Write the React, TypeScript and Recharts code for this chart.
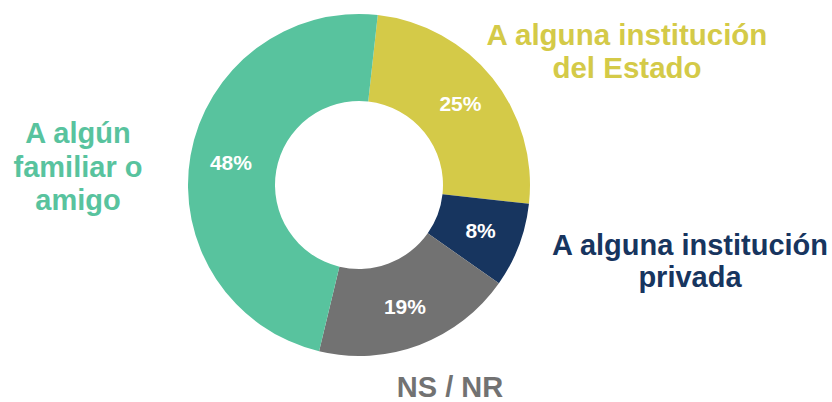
import React from "react";
import { PieChart, Pie, Cell } from "recharts";

const categories = [
  "A alguna institución del Estado",
  "A alguna institución privada",
  "NS / NR",
  "A algún familiar o amigo",
];
const values = [25, 8, 19, 48];
const categoryLines = [
  ["A alguna institución", "del Estado"],
  ["A alguna institución", "privada"],
  ["NS / NR"],
  ["A algún", "familiar o", "amigo"],
];

const colors = ["#D4CA48", "#17355F", "#727272", "#58C39E"];

// label layout (position of the category text blocks)
const nameLayout = [
  { x: 627, y: 45, size: 29.5, lh: 33 },
  { x: 690, y: 255, size: 29, lh: 32 },
  { x: 450, y: 397, size: 29, lh: 32 },
  { x: 78, y: 143, size: 29, lh: 33.5 },
];

const data = categories.map((c, i) => ({ name: c, value: values[i] }));

const RADIAN = Math.PI / 180;
const FONT = "'Liberation Sans', Arial, sans-serif";

const renderLabel = (props: any) => {
  const { cx, cy, midAngle, value, index } = props;
  const r = 130;
  const x = cx + r * Math.cos(-midAngle * RADIAN);
  const y = cy + r * Math.sin(-midAngle * RADIAN);
  const lay = nameLayout[index];
  return (
    <g>
      <text
        x={x}
        y={y}
        fill="#FFFFFF"
        textAnchor="middle"
        dominantBaseline="central"
        fontFamily={FONT}
        fontWeight="bold"
        fontSize={21}
      >
        {`${value}%`}
      </text>
      <text
        textAnchor="middle"
        fill={colors[index]}
        fontFamily={FONT}
        fontWeight="bold"
        fontSize={lay.size}
      >
        {categoryLines[index].map((ln, k) => (
          <tspan key={k} x={lay.x} y={lay.y + k * lay.lh}>
            {ln}
          </tspan>
        ))}
      </text>
    </g>
  );
};

export default function App() {
  return (
    <div style={{ position: "absolute", left: 0, top: 0, width: 832, height: 402, background: "#fff" }}>
      <PieChart width={832} height={402} margin={{ top: 0, right: 0, bottom: 0, left: 0 }}>
        <Pie
          data={data}
          dataKey="value"
          nameKey="name"
          cx={359}
          cy={185}
          innerRadius={84}
          outerRadius={171}
          startAngle={83.7}
          endAngle={-276.3}
          stroke="none"
          labelLine={false}
          label={renderLabel}
          isAnimationActive={false}
        >
          {data.map((d, i) => (
            <Cell key={d.name} fill={colors[i]} />
          ))}
        </Pie>
      </PieChart>
    </div>
  );
}
